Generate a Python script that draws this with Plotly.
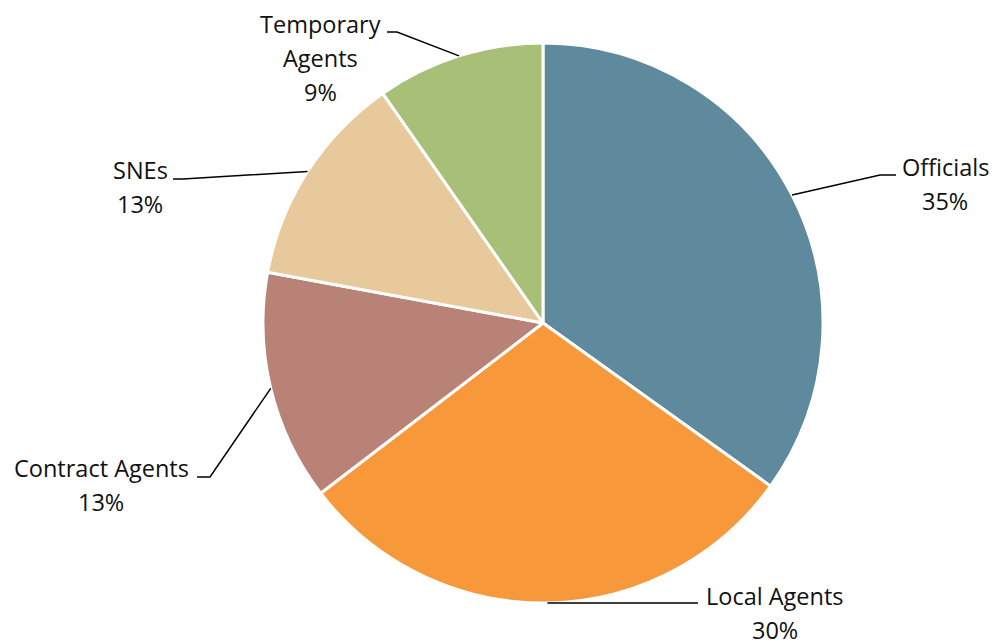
import math
import plotly.graph_objects as go

categories = ['Officials', 'Local Agents', 'Contract Agents', 'SNEs', 'Temporary Agents']
shares = [34.9, 29.7, 13.3, 12.4, 9.7]
# Percentages as printed on the chart
pct_labels = ['35%', '30%', '13%', '13%', '9%']
colors = ['#5F8A9E', '#F7993A', '#B98276', '#E8C99C', '#A8BF78']

# Label text lines (label name broken as in the picture)
label_lines = [['Officials'], ['Local Agents'], ['Contract Agents'], ['SNEs'], ['Temporary', 'Agents']]

W, H = 994, 643
# Pie placement in pixels
cx, cy, r = 543, 323, 280

# Label placement in pixels: text centre x, first line y, elbow x, elbow y, end x
label_pos = [
    (945, 167, 880, 175, 896),
    (775, 596, 686, 603, 698),
    (101, 468, 210, 477, 197),
    (140, 170, 183, 179, 173),
    (320, 24, 397, 32, 387),
]
line_gap = 34

def px(x):
    return x / W

def py(y):
    return 1 - y / H

fig = go.Figure()
fig.add_trace(go.Pie(
    labels=categories,
    values=shares,
    sort=False,
    direction='clockwise',
    rotation=0,
    marker=dict(colors=colors, line=dict(color='white', width=3)),
    textinfo='none',
    hoverinfo='label+percent',
    domain=dict(x=[px(cx - r), px(cx + r)], y=[py(cy + r), py(cy - r)]),
    showlegend=False,
))

total = sum(shares)
annotations = []
shapes = []
cum = 0
for val, pct, lines, pos in zip(shares, pct_labels, label_lines, label_pos):
    mid = (cum + val / 2) / total * 2 * math.pi
    cum += val
    sx = cx + r * math.sin(mid)
    sy = cy - r * math.cos(mid)
    tx, ty, ex, ey, endx = pos
    # Leader line from the slice edge to the label
    shapes.append(dict(
        type='path', xref='paper', yref='paper',
        path=f'M {px(sx)},{py(sy)} L {px(ex)},{py(ey)} L {px(endx)},{py(ey)}',
        line=dict(color='black', width=1.5),
    ))
    for i, t in enumerate(lines + [pct]):
        annotations.append(dict(
            x=px(tx), y=py(ty + i * line_gap), xref='paper', yref='paper',
            text=t, showarrow=False, xanchor='center', yanchor='middle',
            font=dict(family='Open Sans', size=23.5, color='#111111'),
        ))

fig.update_layout(
    width=W, height=H,
    margin=dict(l=0, r=0, t=0, b=0),
    paper_bgcolor='white',
    plot_bgcolor='white',
    annotations=annotations,
    shapes=shapes,
)
# Drop the default page margin so the figure sits at the window's corner
fig.write_html('out.html', config={'displayModeBar': False},
               post_script="document.body.style.margin='0';document.body.style.overflow='hidden';")
